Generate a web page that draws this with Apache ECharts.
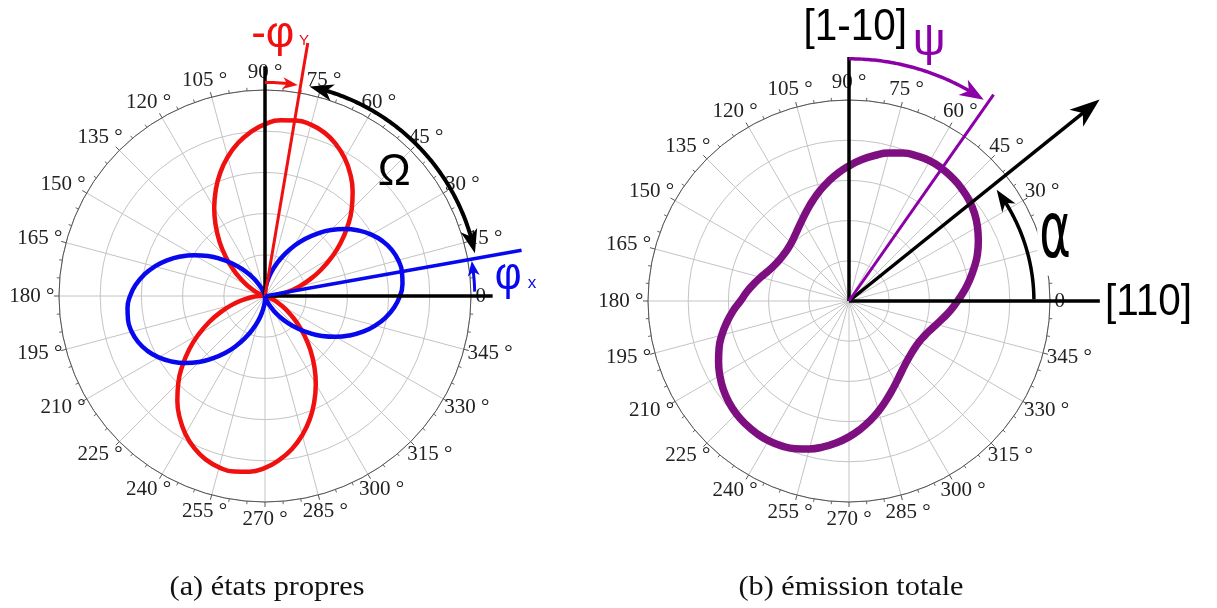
<!DOCTYPE html>
<html>
<head>
<meta charset="utf-8">
<script src="https://cdn.jsdelivr.net/npm/echarts@6/dist/echarts.min.js"></script>
<style>
html,body{margin:0;padding:0;background:#ffffff;}
#c{width:1217px;height:608px;}
</style>
</head>
<body>
<div id="c"></div>
<script>
// ---- tick labels of the angle axis ----
const angleTicks = [0,15,30,45,60,75,90,105,120,135,150,165,180,195,210,225,240,255,270,285,300,315,330,345];
const angleLabels = ['0','15 °','30 °','45 °','60 °','75 °','90 °','105 °','120 °','135 °','150 °','165 °','180 °','195 °','210 °','225 °','240 °','255 °','270 °','285 °','300 °','315 °','330 °','345 °'];

// ---- (a) eigenstates: angle (deg) and normalised radius ----
const lobeAngles = [0,5,10,15,20,25,30,35,40,45,50,55,60,65,70,75,80,85,90,95,100,105,110,115,120,125,130,135,140,145,150,155,160,165,170,175,
  180,185,190,195,200,205,210,215,220,225,230,235,240,245,250,255,260,265,270,275,280,285,290,295,300,305,310,315,320,325,330,335,340,345,350,355,360];
const redEigen = [0.031,0.066,0.111,0.166,0.229,0.299,0.372,0.448,0.522,0.595,0.662,0.722,0.773,0.814,0.844,0.861,0.865,0.856,0.834,0.799,0.754,0.699,0.636,0.566,0.493,0.417,0.343,0.270,0.203,0.143,0.092,0.051,0.021,0.004,0.000,0.009,
  0.031,0.066,0.111,0.166,0.229,0.299,0.372,0.448,0.522,0.595,0.662,0.722,0.773,0.814,0.844,0.861,0.865,0.856,0.834,0.799,0.754,0.699,0.636,0.566,0.493,0.417,0.343,0.270,0.203,0.143,0.092,0.051,0.021,0.004,0.000,0.009,0.031];
const blueEigen = [0.655,0.670,0.675,0.670,0.655,0.630,0.596,0.554,0.506,0.453,0.396,0.338,0.279,0.222,0.169,0.121,0.079,0.045,0.020,0.005,0.000,0.005,0.020,0.045,0.079,0.121,0.169,0.222,0.279,0.338,0.396,0.453,0.506,0.554,0.596,0.630,
  0.655,0.670,0.675,0.670,0.655,0.630,0.596,0.554,0.506,0.453,0.396,0.338,0.279,0.222,0.169,0.121,0.079,0.045,0.020,0.005,0.000,0.005,0.020,0.045,0.079,0.121,0.169,0.222,0.279,0.338,0.396,0.453,0.506,0.554,0.596,0.630,0.655];

// ---- (b) total emission ----
const totalAngles = lobeAngles;
const totalEmission = [0.540,0.575,0.610,0.645,0.680,0.710,0.738,0.762,0.780,0.792,0.800,0.805,0.805,0.797,0.783,0.762,0.735,0.705,0.672,0.638,0.602,0.566,0.530,0.496,0.466,0.441,0.421,0.407,0.400,0.399,0.403,0.413,0.430,0.455,0.482,0.511,
  0.540,0.580,0.618,0.655,0.688,0.716,0.742,0.764,0.781,0.793,0.800,0.803,0.802,0.795,0.782,0.762,0.737,0.708,0.676,0.641,0.604,0.567,0.531,0.498,0.469,0.445,0.426,0.413,0.405,0.402,0.404,0.413,0.428,0.450,0.478,0.509,0.540];

const captions = ['(a) états propres', '(b) émission totale'];

const RED = '#f01010', BLUE = '#0808ee', PURPLE = '#7d0f80', PURPLE2 = '#8c00a8';
const LABEL_SIZE = 21;

const chart = echarts.init(document.getElementById('c'), null, {renderer: 'canvas'});

function angleAxis(pi) {
  return {
    polarIndex: pi, type: 'value', min: 0, max: 360, interval: 15,
    startAngle: 0, clockwise: false,
    axisLine: {show: true, lineStyle: {color: '#555', width: 1}},
    axisTick: {show: true, length: 5, lineStyle: {color: '#555', width: 1}},
    minorTick: {show: true, splitNumber: 3, length: 3, lineStyle: {color: '#666', width: 1}},
    axisLabel: {show: false},
    splitLine: {show: true, lineStyle: {color: '#c4c4c4', width: 1}}
  };
}
function radiusAxis(pi) {
  return {
    polarIndex: pi, type: 'value', min: 0, max: 1, interval: 0.2,
    axisLine: {show: false}, axisTick: {show: false}, axisLabel: {show: false},
    splitLine: {show: true, lineStyle: {color: '#c4c4c4', width: 1}}
  };
}

const option = {
  animation: false,
  backgroundColor: '#ffffff',
  polar: [
    {center: [265, 296], radius: 206},
    {center: [849, 301], radius: 201}
  ],
  angleAxis: [angleAxis(0), angleAxis(1)],
  radiusAxis: [radiusAxis(0), radiusAxis(1)],
  series: [
    {type: 'line', coordinateSystem: 'polar', polarIndex: 0, showSymbol: false, smooth: 0.5,
     data: lobeAngles.map((a, i) => [redEigen[i], a]), lineStyle: {color: RED, width: 4.5}, z: 3},
    {type: 'line', coordinateSystem: 'polar', polarIndex: 0, showSymbol: false, smooth: 0.5,
     data: lobeAngles.map((a, i) => [blueEigen[i], a]), lineStyle: {color: BLUE, width: 4.5}, z: 4},
    {type: 'line', coordinateSystem: 'polar', polarIndex: 1, showSymbol: false, smooth: 0.5,
     data: totalAngles.map((a, i) => [totalEmission[i], a]), lineStyle: {color: PURPLE, width: 7.5}, z: 3}
  ]
};
chart.setOption(option);

// ---- annotations placed through the polar scales ----
const P = (pi, r, a) => chart.convertToPixel({polarIndex: pi}, [r, a]);
const g = [];
function seg(pi, r0, r1, a, color, w) {
  const p0 = P(pi, r0, a), p1 = P(pi, r1, a);
  g.push({type: 'line', shape: {x1: p0[0], y1: p0[1], x2: p1[0], y2: p1[1]}, style: {stroke: color, lineWidth: w}, z: 100});
}
function arcLine(pi, r, a0, a1, color, w) {
  const pts = [];
  const n = Math.max(2, Math.ceil(Math.abs(a1 - a0) * 2));
  for (let i = 0; i <= n; i++) pts.push(P(pi, r, a0 + (a1 - a0) * i / n));
  g.push({type: 'polyline', shape: {points: pts}, style: {stroke: color, lineWidth: w, fill: null}, z: 100});
}
function head(tip, from, len, wid, color) {
  const dx = tip[0] - from[0], dy = tip[1] - from[1];
  const L = Math.hypot(dx, dy), ux = dx / L, uy = dy / L, nx = -uy, ny = ux;
  const bx = tip[0] - ux * len, by = tip[1] - uy * len;
  const notch = [tip[0] - ux * len * 0.72, tip[1] - uy * len * 0.72];
  g.push({type: 'polygon', shape: {points: [tip, [bx + nx * wid / 2, by + ny * wid / 2], notch, [bx - nx * wid / 2, by - ny * wid / 2]]},
          style: {fill: color}, z: 101});
}
function arcArrow(pi, r, a0, a1, color, w, len, wid, both) {
  const c = P(pi, 0, 0), t = P(pi, r, a1);
  const Rpx = Math.hypot(t[0] - c[0], t[1] - c[1]);
  const dA = (len * 0.6) / Rpx * 180 / Math.PI * Math.sign(a1 - a0);
  arcLine(pi, r, both ? a0 + dA : a0, a1 - dA, color, w);
  head(t, P(pi, r, a1 - dA * 1.6), len, wid, color);
  if (both) head(P(pi, r, a0), P(pi, r, a0 + dA * 1.6), len, wid, color);
}
function rayArrow(pi, r, a, color, w, len, wid) {
  const c = P(pi, 0, 0), t = P(pi, r, a);
  const Rpx = Math.hypot(t[0] - c[0], t[1] - c[1]);
  seg(pi, 0, r * (1 - len * 0.6 / Rpx), a, color, w);
  head(t, c, len, wid, color);
}
function txt(pi, r, a, text, style, extra, dx) {
  const p = P(pi, r, a);
  g.push(Object.assign({type: 'text', x: p[0] + (dx || 0), y: p[1], z: 102,
    style: Object.assign({text: text, align: 'center', verticalAlign: 'middle', fontFamily: 'Liberation Sans', fill: '#000'}, style)}, extra || {}));
}

// angle tick labels, centred on a slightly wide ellipse outside the outer circle
const mctx = document.createElement('canvas').getContext('2d');
mctx.font = LABEL_SIZE + 'px "Liberation Serif"';
function angleLabelsFor(pi) {
  const c = P(pi, 0, 0), e = P(pi, 1, 0);
  const R = Math.hypot(e[0] - c[0], e[1] - c[1]);
  angleTicks.forEach((a, i) => {
    const text = angleLabels[i];
    const w = mctx.measureText(text).width;
    const ax = R + 17 + (9 - (43 - w) / 2);   // horizontal semi-axis
    const by = R + 17.5;                      // vertical semi-axis
    const px = P(pi, ax / R, a)[0], py = P(pi, by / R, a)[1];
    g.push({type: 'text', x: px, y: py, z: 90,
      style: {text: text, align: 'center', verticalAlign: 'middle', fontFamily: 'Liberation Serif', fontSize: LABEL_SIZE, fill: '#222'}});
  });
}
angleLabelsFor(0);
angleLabelsFor(1);

// (a)
seg(0, 0, 1.115, 90, '#000', 3.5);
seg(0, 0, 1.105, 0, '#000', 3.5);
seg(0, 0, 1.245, 80.4, RED, 3);
seg(0, 0, 1.265, 10.1, BLUE, 3.5);
arcArrow(0, 1.037, 90, 81.2, RED, 3, 15, 12, false);
arcArrow(0, 1.04, 78, 11.5, '#000', 4, 24, 17, true);
arcArrow(0, 1.018, 1.2, 9.6, BLUE, 3, 15, 12, false);
txt(0, 1.266, 88.3, '-φ', {fontSize: 44, fill: RED});
txt(0, 1.252, 81.3, 'Y', {fontSize: 15, fill: RED});
txt(0, 1.184, 4.7, 'φ', {fontSize: 46, fill: BLUE}, {scaleX: 0.9});
txt(0, 1.298, 2.8, 'x', {fontSize: 17, fill: BLUE});
txt(0, 0.866, 43.6, 'Ω', {fontSize: 44, fill: '#000'});

// (b)
seg(1, 0, 1.214, 90, '#000', 3.5);
seg(1, 0, 1.248, 0, '#000', 3.5);
rayArrow(1, 1.6, 38.8, '#000', 3.5, 30, 22);
seg(1, 0, 1.254, 55, PURPLE2, 3);
arcArrow(1, 1.205, 90, 56.2, PURPLE2, 3.5, 24, 18, false);
arcArrow(1, 0.92, 0.5, 37, '#000', 3.5, 22, 16, false);
txt(1, 1.358, 88.7, '[1-10]', {fontSize: 44}, {scaleX: 0.92});
txt(1, 1.349, 72.8, 'ψ', {fontSize: 46, fill: PURPLE2});
txt(1, 1.075, 17.5, 'α', {fontSize: 48, fontFamily: 'DejaVu Sans', backgroundColor: '#fff', padding: [0, 16, 0, 2]}, {scaleY: 1.65, z: 110}, 7);
txt(1, 1.274, -0.45, '[110]', {fontSize: 44, align: 'left'}, {scaleX: 0.92});

// captions
g.push({type: 'text', x: 267, y: 588, z: 102, scaleX: 1.12, style: {text: captions[0], align: 'center', verticalAlign: 'middle', fontFamily: 'Liberation Serif', fontSize: 27, fill: '#111'}});
g.push({type: 'text', x: 851, y: 588, z: 102, scaleX: 1.12, style: {text: captions[1], align: 'center', verticalAlign: 'middle', fontFamily: 'Liberation Serif', fontSize: 27, fill: '#111'}});

chart.setOption({graphic: g});
</script>
</body>
</html>
